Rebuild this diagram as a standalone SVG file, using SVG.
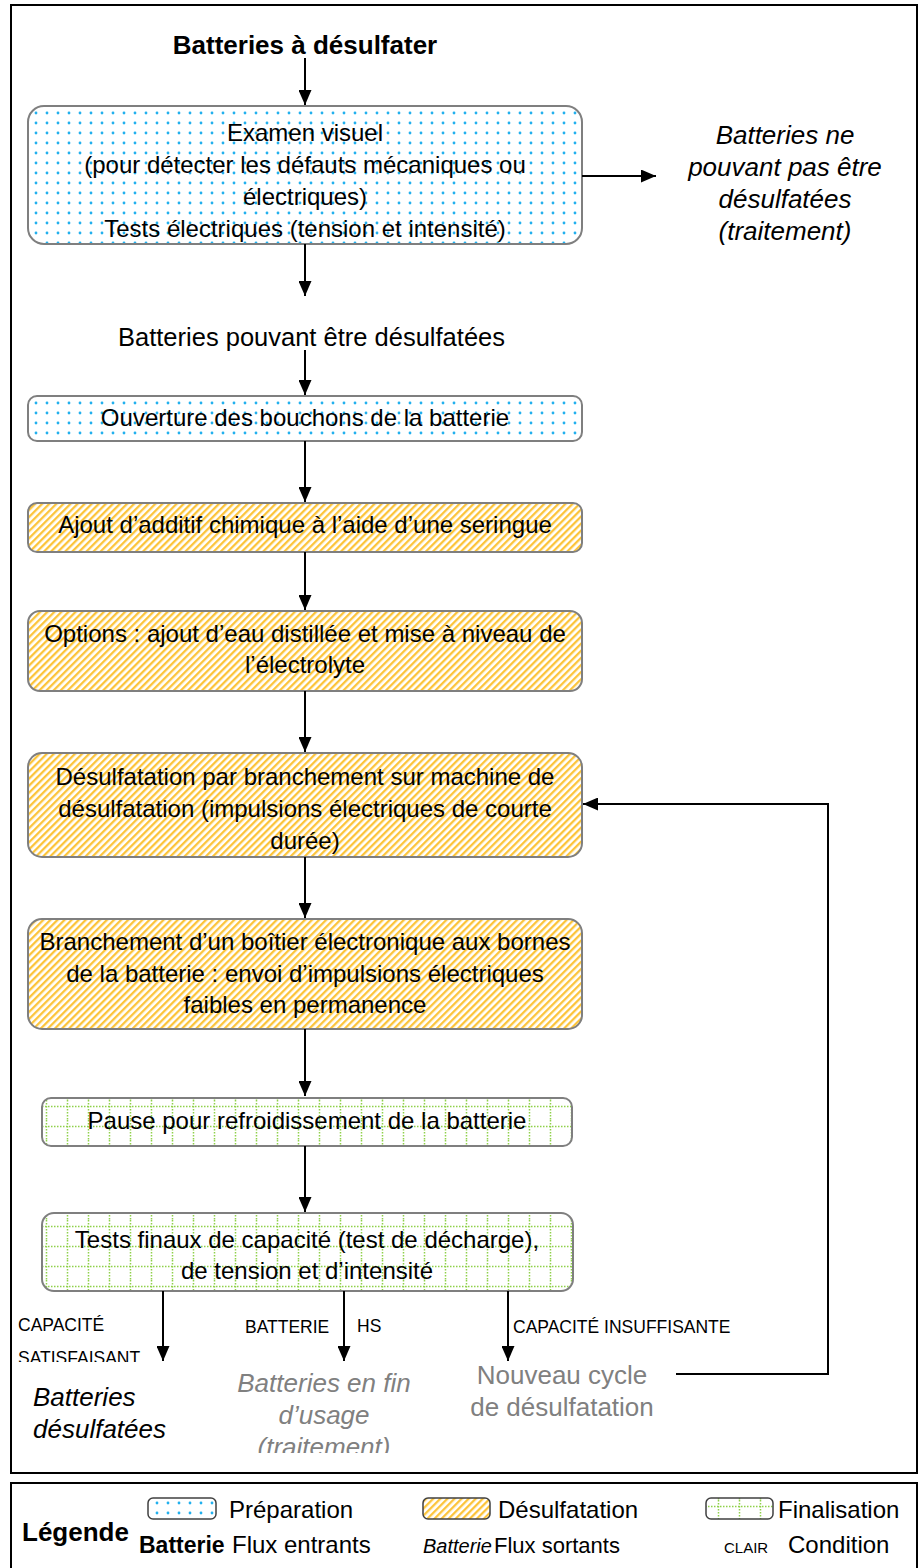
<svg xmlns="http://www.w3.org/2000/svg" width="919" height="1568" viewBox="0 0 919 1568">
<style>
text{font-family:"Liberation Sans",Arial,sans-serif;fill:#000}
.bt{font-size:24px;text-anchor:middle}
.ttl{font-size:26px;font-weight:bold;text-anchor:middle}
.out{font-size:26px;font-style:italic;text-anchor:middle}
.gray{fill:#808080}
.cond{font-size:17.5px}
.lg{font-size:24px}
.box{stroke:#7f7f7f;stroke-width:2}
.frame{fill:none;stroke:#000;stroke-width:2}
.conn line,.conn path,.conn polyline{stroke:#000;stroke-width:2;fill:none}
</style>
<defs>
<pattern id="pDots" width="11" height="10" patternUnits="userSpaceOnUse">
<rect width="11" height="10" fill="#fff"/>
<circle cx="3" cy="3" r="1.4" fill="#22b0ee"/>
</pattern>
<pattern id="pStripe" width="5" height="5" patternUnits="userSpaceOnUse" patternTransform="rotate(45)">
<rect width="5" height="5" fill="#fff"/>
<rect width="2.3" height="5" fill="#fcc43a"/>
</pattern>
<pattern id="pGrid" width="21" height="20" patternUnits="userSpaceOnUse">
<rect width="21" height="20" fill="#fff"/>
<line x1="0" y1="6.5" x2="21" y2="6.5" stroke="#8fd14a" stroke-width="1.5" stroke-dasharray="1.5 1.5"/>
<line x1="4.5" y1="0" x2="4.5" y2="20" stroke="#8fd14a" stroke-width="1.5" stroke-dasharray="1.5 1.5"/>
</pattern>
<marker id="arr" markerUnits="userSpaceOnUse" markerWidth="15" markerHeight="13" refX="15" refY="6.5" orient="auto">
<path d="M0,0 L15,6.5 L0,13 z" fill="#000"/>
</marker>
<clipPath id="clipSat"><rect x="0" y="1300" width="300" height="62"/></clipPath>
<clipPath id="clipTrait"><rect x="200" y="1360" width="260" height="93"/></clipPath>
</defs>
<rect width="919" height="1568" fill="#fff"/>
<rect class="frame" x="11" y="5" width="906" height="1468"/>
<rect class="frame" x="11" y="1483" width="906" height="100"/>

<g id="title"><text class="ttl" x="305" y="54">Batteries à désulfater</text></g>

<g id="n1">
<rect class="box" x="28" y="106" width="554" height="138" rx="16" fill="url(#pDots)"/>
<text class="bt" x="305" y="141">Examen visuel</text>
<text class="bt" x="305" y="173">(pour détecter les défauts mécaniques ou</text>
<text class="bt" x="305" y="205">électriques)</text>
<text class="bt" x="305" y="237">Tests électriques (tension et intensité)</text>
</g>

<g id="out1">
<text class="out" x="785" y="144">Batteries ne</text>
<text class="out" x="785" y="176">pouvant pas être</text>
<text class="out" x="785" y="208">désulfatées</text>
<text class="out" x="785" y="240">(traitement)</text>
</g>

<g id="mid"><text x="118" y="346" style="font-size:25.5px">Batteries pouvant être désulfatées</text></g>

<g id="n2">
<rect class="box" x="28" y="396" width="554" height="45" rx="9" fill="url(#pDots)"/>
<text class="bt" x="305" y="426">Ouverture des bouchons de la batterie</text>
</g>

<g id="n3">
<rect class="box" x="28" y="503" width="554" height="49" rx="9" fill="url(#pStripe)"/>
<text class="bt" x="305" y="533">Ajout d’additif chimique à l’aide d’une seringue</text>
</g>

<g id="n4">
<rect class="box" x="28" y="611" width="554" height="80" rx="12" fill="url(#pStripe)"/>
<text class="bt" x="305" y="642">Options : ajout d’eau distillée et mise à niveau de</text>
<text class="bt" x="305" y="673">l’électrolyte</text>
</g>

<g id="n5">
<rect class="box" x="28" y="753" width="554" height="104" rx="14" fill="url(#pStripe)"/>
<text class="bt" x="305" y="785">Désulfatation par branchement sur machine de</text>
<text class="bt" x="305" y="817">désulfatation (impulsions électriques de courte</text>
<text class="bt" x="305" y="849">durée)</text>
</g>

<g id="n6">
<rect class="box" x="28" y="919" width="554" height="110" rx="14" fill="url(#pStripe)"/>
<text class="bt" x="305" y="950">Branchement d’un boîtier électronique aux bornes</text>
<text class="bt" x="305" y="982">de la batterie : envoi d’impulsions électriques</text>
<text class="bt" x="305" y="1013">faibles en permanence</text>
</g>

<g id="n7">
<rect class="box" x="42" y="1098" width="530" height="48" rx="9" fill="url(#pGrid)"/>
<text class="bt" x="307" y="1129">Pause pour refroidissement de la batterie</text>
</g>

<g id="n8">
<rect class="box" x="42" y="1213" width="531" height="78" rx="12" fill="url(#pGrid)"/>
<text class="bt" x="307" y="1248">Tests finaux de capacité (test de décharge),</text>
<text class="bt" x="307" y="1279">de tension et d’intensité</text>
</g>

<g id="conditions">
<text class="cond" x="18" y="1331">CAPACITÉ</text>
<text class="cond" x="18" y="1364" clip-path="url(#clipSat)">SATISFAISANT</text>
<text class="cond" x="245" y="1333">BATTERIE</text>
<text class="cond" x="357" y="1332">HS</text>
<text class="cond" x="513" y="1333">CAPACITÉ INSUFFISANTE</text>
</g>

<g id="out2">
<text x="33" y="1406" style="font-size:26px;font-style:italic">Batteries</text>
<text x="33" y="1438" style="font-size:26px;font-style:italic">désulfatées</text>
</g>

<g id="out3" clip-path="url(#clipTrait)">
<text class="out gray" x="324" y="1392">Batteries en fin</text>
<text class="out gray" x="324" y="1424">d’usage</text>
<text class="out gray" x="324" y="1456">(traitement)</text>
</g>

<g id="out4">
<text class="gray" x="562" y="1384" style="font-size:26px;text-anchor:middle">Nouveau cycle</text>
<text class="gray" x="562" y="1416" style="font-size:26px;text-anchor:middle">de désulfatation</text>
</g>

<g id="connectors" class="conn">
<line x1="305" y1="58" x2="305" y2="105" marker-end="url(#arr)"/>
<line x1="582" y1="176" x2="656" y2="176" marker-end="url(#arr)"/>
<line x1="305" y1="244" x2="305" y2="296" marker-end="url(#arr)"/>
<line x1="305" y1="350" x2="305" y2="395" marker-end="url(#arr)"/>
<line x1="305" y1="441" x2="305" y2="502" marker-end="url(#arr)"/>
<line x1="305" y1="552" x2="305" y2="610" marker-end="url(#arr)"/>
<line x1="305" y1="691" x2="305" y2="752" marker-end="url(#arr)"/>
<line x1="305" y1="857" x2="305" y2="918" marker-end="url(#arr)"/>
<line x1="305" y1="1029" x2="305" y2="1096" marker-end="url(#arr)"/>
<line x1="305" y1="1146" x2="305" y2="1212" marker-end="url(#arr)"/>
<line x1="163" y1="1291" x2="163" y2="1361" marker-end="url(#arr)"/>
<line x1="344" y1="1291" x2="344" y2="1361" marker-end="url(#arr)"/>
<line x1="508" y1="1291" x2="508" y2="1361" marker-end="url(#arr)"/>
<polyline points="676,1374 828,1374 828,804 583,804" marker-end="url(#arr)"/>
</g>

<g id="legend">
<text x="22" y="1541" style="font-size:26px;font-weight:bold">Légende</text>
<rect x="148" y="1498" width="68" height="21" rx="5" fill="url(#pDots)" stroke="#404040" stroke-width="1.5"/>
<text class="lg" x="229" y="1518">Préparation</text>
<rect x="423" y="1498" width="67" height="21" rx="5" fill="url(#pStripe)" stroke="#404040" stroke-width="1.5"/>
<text class="lg" x="498" y="1518">Désulfatation</text>
<rect x="706" y="1498" width="67" height="21" rx="5" fill="url(#pGrid)" stroke="#404040" stroke-width="1.5"/>
<text class="lg" x="778" y="1518">Finalisation</text>
<text x="139" y="1553" style="font-size:23px;font-weight:bold">Batterie</text>
<text class="lg" x="232" y="1553">Flux entrants</text>
<text x="423" y="1553" style="font-size:20px;font-style:italic">Batterie</text>
<text x="494" y="1553" style="font-size:22px">Flux sortants</text>
<text x="724" y="1553" style="font-size:15px">CLAIR</text>
<text class="lg" x="788" y="1553">Condition</text>
</g>
</svg>
